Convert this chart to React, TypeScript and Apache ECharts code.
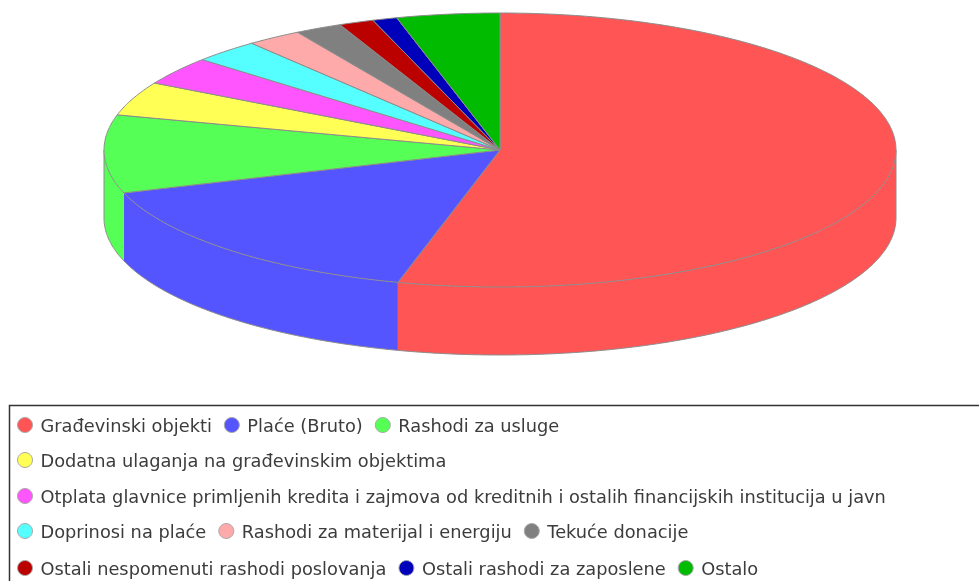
import React, { useEffect, useRef } from "react";
import * as echarts from "echarts";

const categories = [
  "Građevinski objekti",
  "Plaće (Bruto)",
  "Rashodi za usluge",
  "Dodatna ulaganja na građevinskim objektima",
  "Otplata glavnice primljenih kredita i zajmova od kreditnih i ostalih financijskih institucija u javn",
  "Doprinosi na plaće",
  "Rashodi za materijal i energiju",
  "Tekuće donacije",
  "Ostali nespomenuti rashodi poslovanja",
  "Ostali rashodi za zaposlene",
  "Ostalo",
];
const values = [54.15, 15.78, 9.2, 4.0, 3.33, 2.75, 2.25, 1.92, 1.42, 1.0, 4.2];
const colors = ["#ff5555", "#5555ff", "#55ff55", "#ffff55", "#ff55ff", "#55ffff", "#ffaaaa", "#808080", "#bb0000", "#0000bb", "#00bb00"];
const legendRows = [
  [0, 1, 2],
  [3],
  [4],
  [5, 6, 7],
  [8, 9, 10],
];
const legendRowCenters = [424, 459, 495, 530, 567];

const CX = 500;
const CY = 150;
const RX = 396;
const RY = 137;
const DEPTH = 68;
const EDGE = "#8c8c8c";

const total = values.reduce((a, b) => a + b, 0);
const pt = (deg: number, dy = 0): [number, number] => {
  const r = (deg * Math.PI) / 180;
  return [CX + RX * Math.sin(r), CY - RY * Math.cos(r) + dy];
};
const arcPts = (from: number, to: number, dy = 0) => {
  const out: [number, number][] = [];
  const n = Math.max(2, Math.ceil(Math.abs(to - from) * 2));
  for (let i = 0; i <= n; i++) out.push(pt(from + ((to - from) * i) / n, dy));
  return out;
};

function renderSlice(index: number) {
  return () => {
    const start = (values.slice(0, index).reduce((a, b) => a + b, 0) / total) * 360;
    const end = start + (values[index] / total) * 360;
    const children: any[] = [];
    const a = Math.max(start, 90);
    const b = Math.min(end, 270);
    if (b > a) {
      children.push({
        type: "polygon",
        shape: { points: [...arcPts(a, b), ...arcPts(b, a, DEPTH)] },
        style: { fill: colors[index], stroke: null },
      });
      const rim = arcPts(a, b, DEPTH);
      if (a === 90) rim.unshift(pt(90));
      if (b === 270) rim.push(pt(270));
      children.push({
        type: "polyline",
        shape: { points: rim },
        style: { fill: null, stroke: EDGE, lineWidth: 1 },
      });
    }
    children.push({
      type: "polygon",
      shape: { points: [[CX, CY], ...arcPts(start, end)] },
      style: { fill: colors[index], stroke: EDGE, lineWidth: 1 },
    });
    return { type: "group", children };
  };
}

export default function App() {
  const ref = useRef<HTMLDivElement>(null);
  useEffect(() => {
    document.body.style.margin = "0";
    const chart = echarts.init(ref.current!, null, { renderer: "svg" });
    chart.setOption({
      animation: false,
      backgroundColor: "#ffffff",
      tooltip: { show: false },
      graphic: [
        {
          type: "rect",
          silent: true,
          shape: { x: 9.5, y: 405.5, width: 1100, height: 300 },
          style: { fill: "#ffffff", stroke: "#333333", lineWidth: 1.5 },
          z: -1,
        },
      ],
      legend: legendRows.map((row, i) => ({
        left: 17,
        top: legendRowCenters[i] - 8,
        data: row.map((k) => categories[k]),
        icon: "circle",
        itemWidth: 15,
        itemHeight: 15,
        itemGap: 12,
        selectedMode: false,
        padding: 0,
        itemStyle: { borderColor: "#aaaaaa", borderWidth: 1 },
        textStyle: {
          fontFamily: "DejaVu Sans",
          fontSize: 17.8,
          color: "#3c3c3c",
          padding: [0, 0, 0, 3],
        },
      })),
      series: categories.map((name, i) => ({
        type: "custom",
        name,
        coordinateSystem: "none",
        silent: true,
        itemStyle: { color: colors[i] },
        data: [values[i]],
        renderItem: renderSlice(i),
      })),
    });
    return () => chart.dispose();
  }, []);
  return (
    <div ref={ref} style={{ width: 979, height: 581, overflow: "hidden", filter: "blur(0.5px)" }} />
  );
}
